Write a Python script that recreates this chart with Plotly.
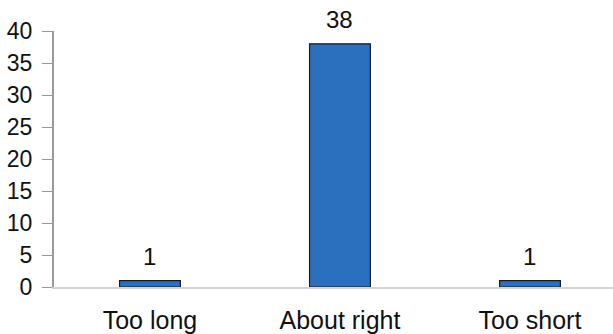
import plotly.graph_objects as go

categories = ["Too long", "About right", "Too short"]
counts = [1, 38, 1]
y_ticks = [0, 5, 10, 15, 20, 25, 30, 35, 40]

FONT = "Liberation Sans, Arial, sans-serif"
TEXT = "#111111"

fig = go.Figure()
fig.add_trace(go.Bar(
    x=categories,
    y=counts,
    width=0.32,
    marker=dict(color="#2b70bf", line=dict(color="#1a1a1a", width=1.2)),
    hoverinfo="skip",
))

# value labels above each bar
for c, v in zip(categories, counts):
    fig.add_annotation(
        x=c, y=v, text=str(v), showarrow=False,
        yanchor="bottom", yshift=9,
        font=dict(family=FONT, size=24, color=TEXT),
    )

fig.update_layout(
    width=613, height=334,
    margin=dict(l=54, r=0, t=31, b=47),
    paper_bgcolor="white", plot_bgcolor="white",
    showlegend=False,
    font=dict(family=FONT, size=24, color=TEXT),
    xaxis=dict(
        range=[-0.505, 2.437],
        showline=True, linecolor="#d4d4d4", linewidth=2,
        ticks="", showgrid=False, zeroline=False,
        tickfont=dict(family=FONT, size=25, color=TEXT),
        ticklabelstandoff=10,
    ),
    yaxis=dict(
        range=[0, 40],
        tickvals=y_ticks,
        showline=True, linecolor="#9a9a9a", linewidth=2,
        ticks="outside", ticklen=10, tickwidth=1, tickcolor="#9a9a9a",
        showgrid=False, zeroline=False,
        tickfont=dict(family=FONT, size=23, color=TEXT),
        ticklabelstandoff=5,
    ),
)

fig.write_html("out.html")
